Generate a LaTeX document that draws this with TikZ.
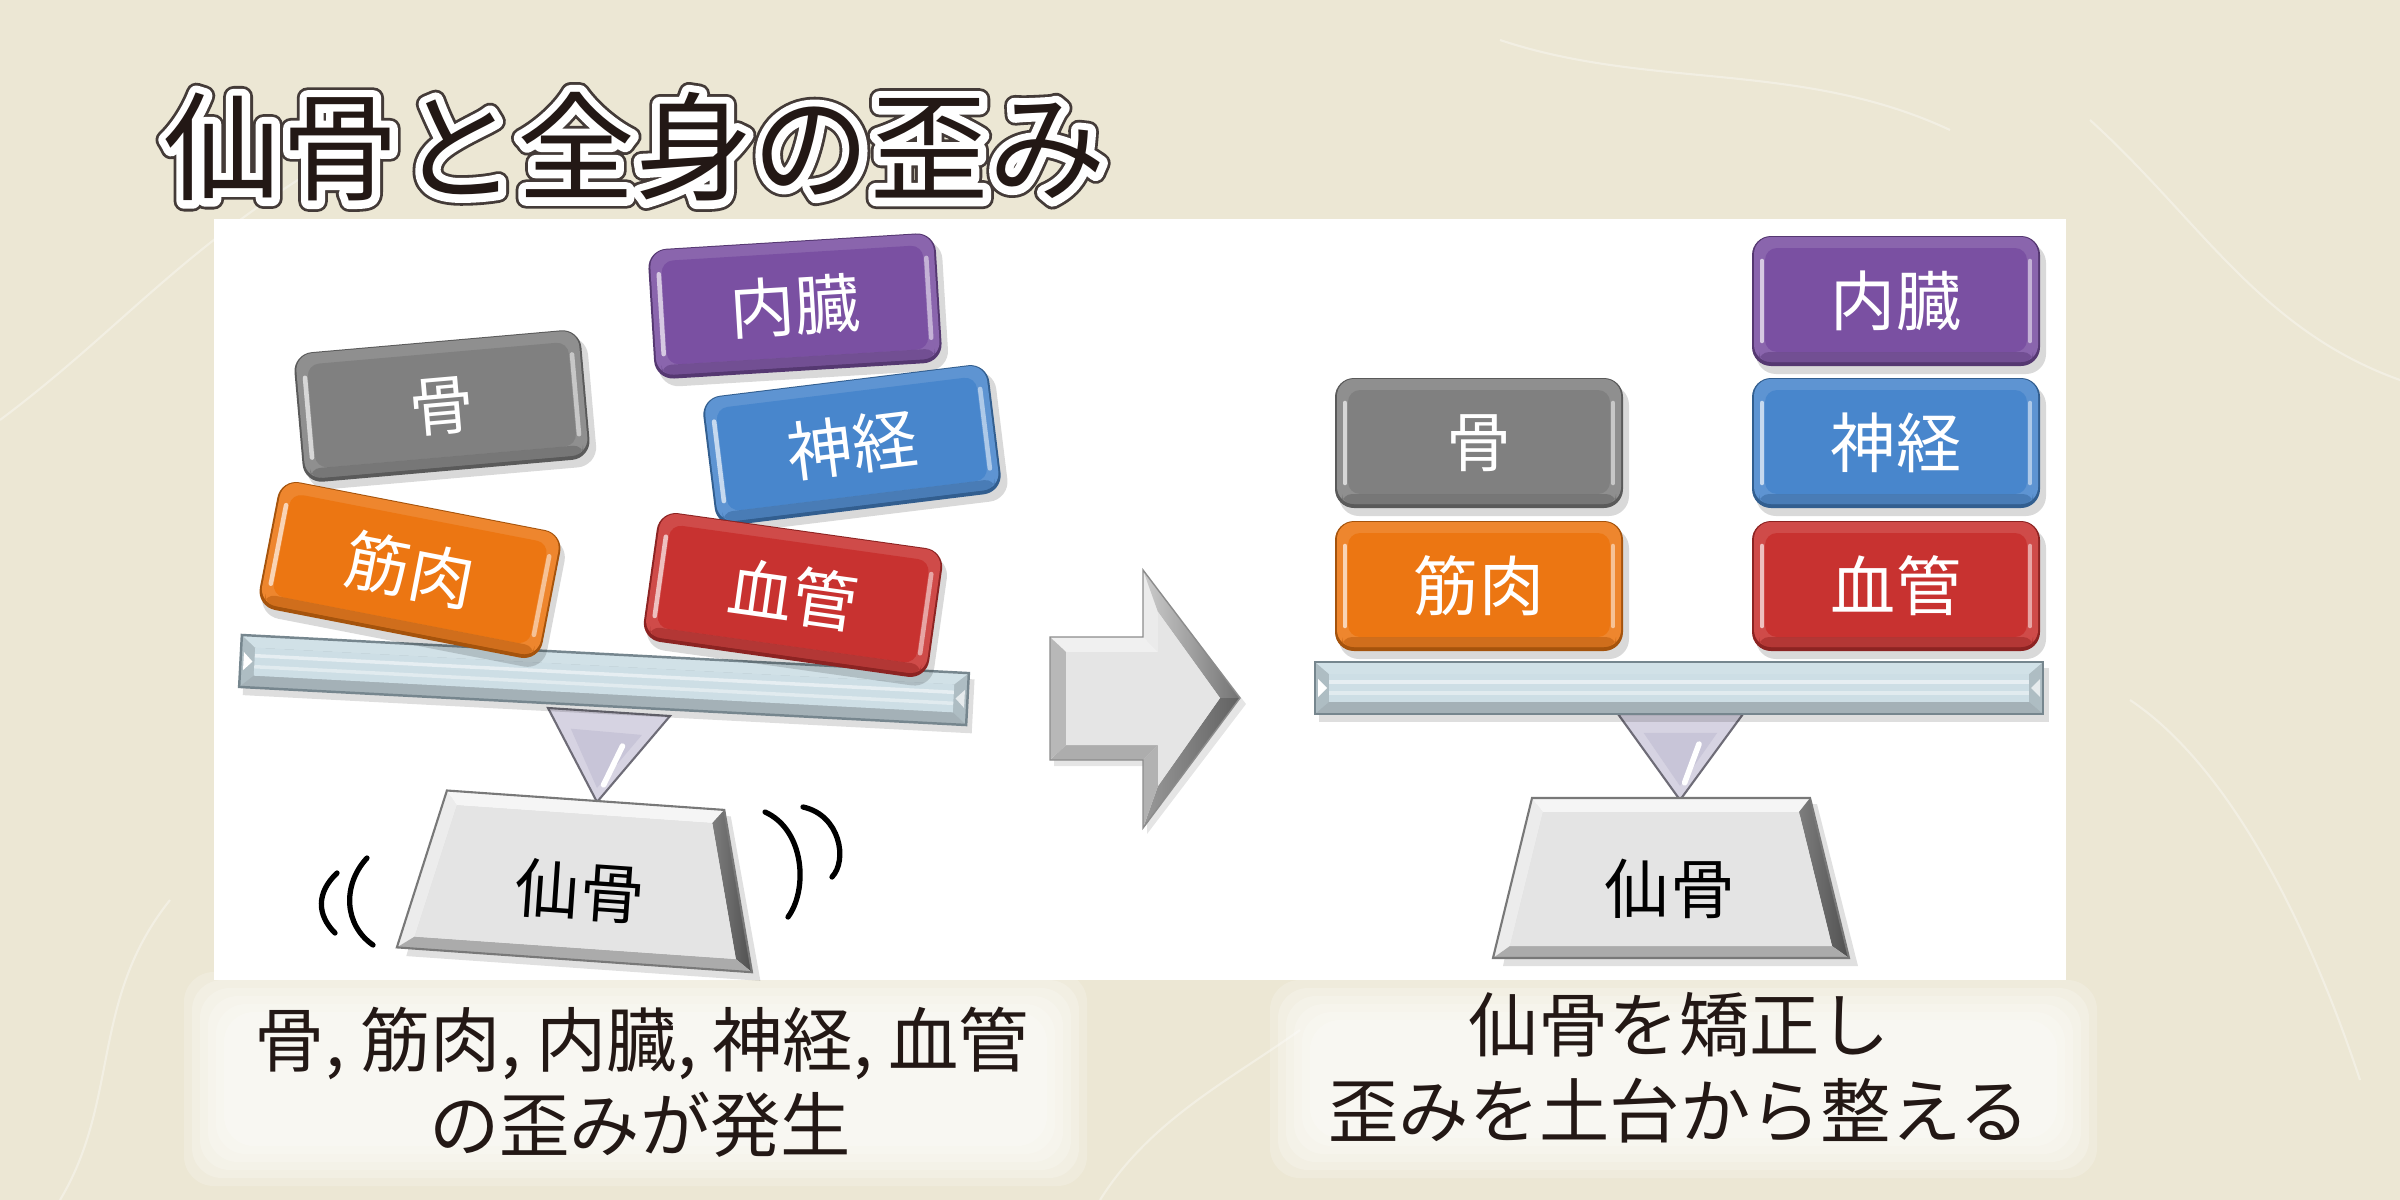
\documentclass[tikz,border=0pt]{standalone}
\usepackage{fontspec}
\setmainfont{Noto Sans CJK JP}
\definecolor{paper}{RGB}{236,231,212}
\definecolor{ink}{RGB}{35,24,21}
\definecolor{cgrey}{RGB}{128,128,128}
\definecolor{corange}{RGB}{236,118,18}
\definecolor{cpurple}{RGB}{122,80,162}
\definecolor{cblue}{RGB}{72,134,204}
\definecolor{cred}{RGB}{200,50,48}
\definecolor{beamc}{RGB}{205,222,229}
\definecolor{beamedge}{RGB}{118,134,142}
\definecolor{fulc}{RGB}{200,197,216}
\definecolor{trapF}{RGB}{228,228,228}
\definecolor{trapE}{RGB}{120,120,120}
\tikzset{
 boxtext/.style={text=white,font=\fontsize{18.5}{20}\selectfont,inner sep=0pt},
 captext/.style={text=ink,font=\fontsize{20}{24}\selectfont,inner sep=0pt},
 basetext/.style={text=black,font=\fontsize{18.5}{20}\selectfont,inner sep=0pt},
 titletext/.style={font=\fontsize{33.5}{36}\selectfont,inner sep=0pt},
 wave/.style={line width=1.5pt,line cap=round,draw=black},
 fiber/.style={draw=white,opacity=.35,line width=0.6pt},
}
% text with a white outline and a thin dark rim (stroked glyphs)
\newcommand\outlinedtext[1]{%
 \rlap{\color{ink!85}\special{pdf:literal direct 2 Tr 6 w 1 j 1 J}#1\special{pdf:literal direct 0 Tr}}%
 \rlap{\color{white}\special{pdf:literal direct 2 Tr 4.4 w 1 j 1 J}#1\special{pdf:literal direct 0 Tr}}%
 {\color{ink}#1}}
% organ block: name, x, y, angle, colour, text
\newcommand\organbox[6]{%
\begin{scope}[shift={(#2,#3)},rotate=#4]
 \fill[black,opacity=.15,rounded corners=0.2cm] (-140,-58) rectangle (150,73);
 \fill[#5!70!black,rounded corners=0.19cm] (-144,-65) rectangle (144,65);
 \fill[#5!88!white,rounded corners=0.17cm] (-142,-64) rectangle (142,61);
 \fill[#5,rounded corners=0.12cm] (-131,-53) rectangle (131,51);
 \fill[#5!78!black,opacity=.55,rounded corners=0.1cm] (-137,51) rectangle (137,61);
 \draw[white,opacity=.65,line width=1.3pt,line cap=round] (-134,-40) -- (-134,40);
 \draw[white,opacity=.5,line width=1.3pt,line cap=round] (134,-40) -- (134,40);
\end{scope}
\node[boxtext,rotate=#4] (#1) at (#2,#3) {#6};
}
% beam: x, y, angle
\newcommand\beam[3]{%
\begin{scope}[shift={(#1,#2)},rotate=#3]
 \fill[black,opacity=.13] (-360,-20) rectangle (370,34);
 \fill[beamc!85!black] (-364,-26) rectangle (364,26);
 \fill[beamc!92!white] (-364,-26) -- (364,-26) -- (350,-14) -- (-350,-14) -- cycle;
 \fill[beamc!80!black] (-364,26) -- (364,26) -- (350,14) -- (-350,14) -- cycle;
 \fill[beamc] (-350,-14) rectangle (350,14);
 \draw[white,opacity=.5,line width=1pt] (-350,-6) -- (350,-6);
 \draw[white,opacity=.4,line width=1pt] (-350,5) -- (350,5);
 \fill[white] (-361,-9) -- (-352,0) -- (-361,9) -- cycle;
 \fill[white,opacity=.7] (361,-9) -- (352,0) -- (361,9) -- cycle;
 \draw[beamedge,line width=0.7pt] (-364,-26) rectangle (364,26);
\end{scope}
}
% sacrum trapezoid: x, y, angle
\newcommand\sacrum[3]{%
\begin{scope}[shift={(#1,#2)},rotate=#3]
 \fill[black,opacity=.12] (-134,-74) -- (146,-74) -- (187,88) -- (-168,88) -- cycle;
 \fill[trapF!70!white] (-139,-80) -- (-128,-66) -- (-161,68) -- (-178,80) -- cycle;
 \fill[white!96!black] (-139,-80) -- (139,-80) -- (128,-66) -- (-128,-66) -- cycle;
 \shade[left color=trapF!55!black,right color=trapF!35!black] (139,-80) -- (178,80) -- (161,68) -- (128,-66) -- cycle;
 \fill[trapF!75!black] (-178,80) -- (178,80) -- (161,68) -- (-161,68) -- cycle;
 \fill[trapF] (-128,-66) -- (128,-66) -- (161,68) -- (-161,68) -- cycle;
 \draw[trapE,line width=0.6pt] (-139,-80) -- (139,-80) -- (178,80) -- (-178,80) -- cycle;
\end{scope}
}
% fulcrum triangle: three corners
\newcommand\fulcrum[6]{%
 \fill[fulc!75!white] (#1,#2) -- (#3,#4) -- (#5,#6) -- cycle;
 \fill[fulc] ($(#1,#2)!0.22!(#5,#6)+(12,0)$) -- ($(#3,#4)!0.22!(#5,#6)+(-12,0)$) -- ($(#5,#6)+(0,-14)$) -- cycle;
 \draw[white,line width=1.6pt,line cap=round] ($(#3,#4)!0.35!(#5,#6)+(-22,0)$) -- ($(#3,#4)!0.8!(#5,#6)+(-8,0)$);
 \draw[fulc!55!black,line width=0.6pt] (#1,#2) -- (#3,#4) -- (#5,#6) -- cycle;
}
\usetikzlibrary{calc}
\begin{document}
\begin{tikzpicture}[x=0.01cm,y=-0.01cm]
\useasboundingbox (0,0) rectangle (2400,1200);
% paper
\fill[paper] (0,0) rectangle (2400,1200);
\draw[fiber] (0,420) .. controls (120,330) and (180,250) .. (330,160);
\draw[fiber] (60,1200) .. controls (120,1100) and (90,1000) .. (170,900);
\draw[fiber] (2090,120) .. controls (2200,220) and (2260,330) .. (2400,380);
\draw[fiber] (2130,700) .. controls (2220,760) and (2300,900) .. (2360,1080);
\draw[fiber] (1100,1200) .. controls (1150,1120) and (1230,1080) .. (1300,1030);
\draw[fiber] (1500,40) .. controls (1650,90) and (1800,60) .. (1950,130);
% caption glows
\foreach \g in {0,8,...,40}{
 \fill[white,opacity=.2,rounded corners=0.3cm] (184+\g,972+\g) rectangle (1087-\g,1186-\g);
 \fill[white,opacity=.2,rounded corners=0.3cm] (1270+\g,980+\g) rectangle (2097-\g,1178-\g);
}
% white panel
\fill[white] (214,219) rectangle (2066,980);

% title
\node[titletext] (title) at (635,147) {\outlinedtext{仙骨と全身の歪み}};

% ---- left scale (distorted) ----
\fulcrum{548}{708}{670}{716}{597}{802}
\sacrum{580}{880}{-4}
\node[basetext,rotate=-4] (sacL) at (580,891) {仙骨};
\beam{604}{680}{-3}
\organbox{boneL}{442}{406}{5}{cgrey}{骨}
\organbox{muscleL}{410}{570}{-11}{corange}{筋肉}
\organbox{visceraL}{795}{306}{3.5}{cpurple}{内臓}
\organbox{nerveL}{852}{445}{7}{cblue}{神経}
\organbox{vesselL}{793}{595}{-8}{cred}{血管}
% wobble marks
\draw[wave] (337,873) .. controls (316,893) and (317,915) .. (335,933);
\draw[wave] (367,858) .. controls (342,885) and (344,925) .. (373,945);
\draw[wave] (765,812) .. controls (805,830) and (808,890) .. (788,917);
\draw[wave] (803,807) .. controls (840,815) and (848,860) .. (832,877);

% ---- arrow ----
\fill[black,opacity=.1] (1054,643) -- (1147,643) -- (1147,576) -- (1246,704) -- (1147,834) -- (1147,766) -- (1054,766) -- cycle;
\fill[white!94!black] (1050,637) -- (1143,637) -- (1158,652) -- (1066,652) -- cycle;
\fill[white!92!black] (1143,637) -- (1143,570) -- (1158,612) -- (1158,652) -- cycle;
\shade[left color=white!80!black,right color=white!45!black] (1143,570) -- (1240,698) -- (1220,698) -- (1158,612) -- cycle;
\shade[left color=white!60!black,right color=white!38!black] (1240,698) -- (1143,828) -- (1158,786) -- (1220,698) -- cycle;
\fill[white!70!black] (1143,828) -- (1143,760) -- (1158,745) -- (1158,786) -- cycle;
\fill[white!68!black] (1050,760) -- (1143,760) -- (1158,745) -- (1066,745) -- cycle;
\fill[white!72!black] (1050,637) -- (1066,652) -- (1066,745) -- (1050,760) -- cycle;
\fill[white!90!black] (1066,652) -- (1158,652) -- (1158,612) -- (1220,698) -- (1158,786) -- (1158,745) -- (1066,745) -- cycle;
\draw[white!55!black,line width=0.4pt] (1050,637) -- (1143,637) -- (1143,570) -- (1240,698) -- (1143,828) -- (1143,760) -- (1050,760) -- cycle;

% ---- right scale (corrected) ----
\fulcrum{1618}{714}{1743}{714}{1680}{800}
\sacrum{1671}{878}{0}
\node[basetext] (sacR) at (1670,889) {仙骨};
\beam{1679}{688}{0}
\organbox{boneR}{1479}{443}{0}{cgrey}{骨}
\organbox{muscleR}{1479}{586}{0}{corange}{筋肉}
\organbox{visceraR}{1896}{301}{0}{cpurple}{内臓}
\organbox{nerveR}{1896}{443}{0}{cblue}{神経}
\organbox{vesselR}{1896}{586}{0}{cred}{血管}

% ---- captions ----
\node[captext] (capL1) at (642,1043) {骨, 筋肉, 内臓, 神経, 血管};
\node[captext] (capL2) at (640,1125) {の歪みが発生};
\node[captext] (capR1) at (1679,1025) {仙骨を矯正し};
\node[captext] (capR2) at (1679,1111) {歪みを土台から整える};
\end{tikzpicture}
\end{document}
